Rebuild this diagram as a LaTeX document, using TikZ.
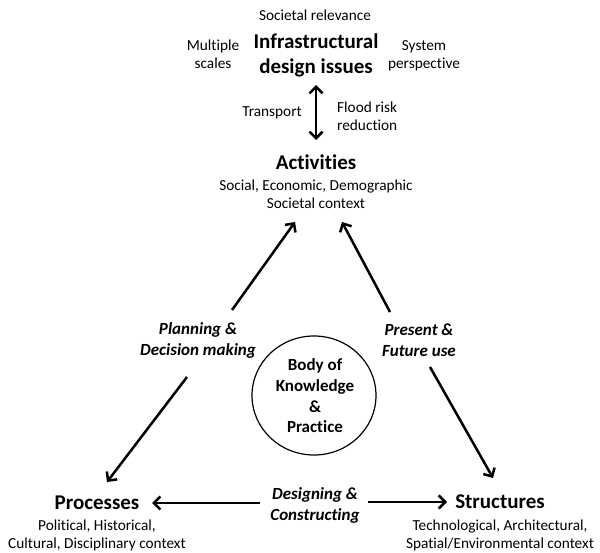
\documentclass[tikz,border=0pt]{standalone}
\usepackage{fontspec}
\setmainfont{Carlito}[Ligatures=NoCommon]
\usetikzlibrary{arrows.meta}
\tikzset{
  small/.style={font=\fontsize{15.3}{17.5}\selectfont, align=center, inner sep=0pt},
  head/.style={font=\fontsize{21}{25}\selectfont\bfseries, align=center, inner sep=0pt},
  lab/.style={font=\fontsize{17}{21}\selectfont\bfseries\itshape, align=center, inner sep=0pt},
  arr/.style={line width=2.5pt, -{Straight Barb[length=6.5pt,width=13pt,line width=2.5pt]}},
  darr/.style={line width=2.5pt, {Straight Barb[length=6.5pt,width=13pt,line width=2.5pt]}-{Straight Barb[length=6.5pt,width=13pt,line width=2.5pt]}},
}
\begin{document}
\begin{tikzpicture}[x=1pt,y=-1pt]
\useasboundingbox (0,0) rectangle (600,553);
% top cluster
\node[small] (rel) at (315,15) {Societal relevance};
\node[small] (scales) at (213,54) {Multiple\\scales};
\node[head] (infra) at (316,55.5) {Infrastructural\\design issues};
\node[small] (sys) at (424,56) {System\\perspective};
\node[small] (transp) at (272,113) {Transport};
\node[small, align=left, anchor=west] (flood) at (337,116) {Flood risk\\reduction};
\coordinate (dtop) at (316,85);
\coordinate (dbot) at (316,140);
\draw[darr] (dtop) -- (dbot);
% activities
\node[head] (act) at (316,162) {Activities};
\node[small] (actsub) at (316,194) {Social, Economic, Demographic\\Societal context};
% processes / structures
\node[head] (proc) at (97,503) {Processes};
\node[small] (procsub) at (97,535.5) {Political, Historical,\\Cultural, Disciplinary context};
\node[head] (struc) at (500,502) {Structures};
\node[small] (strucsub) at (500,535.5) {Technological, Architectural,\\Spatial/Environmental context};
% labels
\node[lab] (plan) at (198,340.5) {Planning \&\\Decision making};
\node[lab] (pres) at (419,340.5) {Present \&\\Future use};
\node[lab] (des) at (315,505) {Designing \&\\Constructing};
% body of knowledge
\draw[line width=1.2pt] (314,395.5) ellipse [x radius=62, y radius=59.5];
\node[font=\fontsize{17}{20.7}\selectfont\bfseries, align=center, inner sep=0pt] (body) at (315,396) {Body of\\Knowledge\\\&\\Practice};
% arrow end points
\coordinate (a1s) at (232,310); \coordinate (a1e) at (295,222);
\coordinate (a2s) at (390,312); \coordinate (a2e) at (342,222);
\coordinate (a3s) at (187,377); \coordinate (a3e) at (107,482);
\coordinate (a4s) at (430,367); \coordinate (a4e) at (493,478);
\coordinate (a5s) at (260,503); \coordinate (a5e) at (152,503);
\coordinate (a6s) at (368,502); \coordinate (a6e) at (447,502);
\draw[arr] (a1s) -- (a1e);
\draw[arr] (a2s) -- (a2e);
\draw[arr] (a3s) -- (a3e);
\draw[arr] (a4s) -- (a4e);
\draw[arr] (a5s) -- (a5e);
\draw[arr] (a6s) -- (a6e);
\end{tikzpicture}
\end{document}
